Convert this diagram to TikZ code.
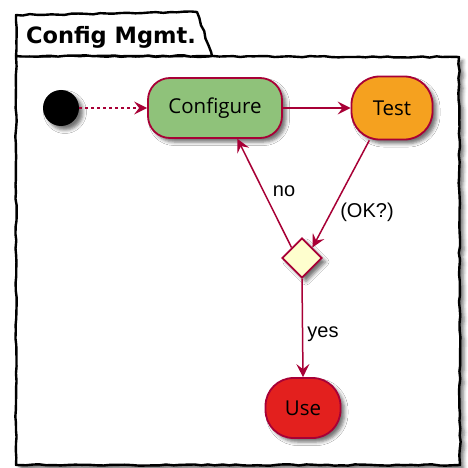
\documentclass[tikz,border=0pt]{standalone}
\usepackage{fontspec}
\setmainfont{Open Sans}
\newfontfamily\labelfont{Liberation Sans}
\newfontfamily\titlefont{DejaVu Sans}
\usetikzlibrary{arrows.meta,shapes.geometric,shadows.blur,decorations.pathmorphing}
\definecolor{umlred}{HTML}{A80036}
\definecolor{cfggreen}{HTML}{8FC27A}
\definecolor{testorange}{HTML}{F5A11F}
\definecolor{usered}{HTML}{E3201E}
\definecolor{decfill}{HTML}{FEFECE}
\pgfmathsetseed{11}
\tikzset{
  sketch/.style={decorate,decoration={random steps,segment length=7pt,amplitude=0.7pt}},
  framepath/.style={draw=black,line width=2.4pt,line join=round,sketch},
  softshadow/.style={blur shadow={shadow xshift=4pt,shadow yshift=-4pt,shadow blur radius=3.5pt,shadow opacity=55}},
  activity/.style={draw=umlred,line width=1.8pt,font=\fontsize{20.5}{23}\selectfont,
    text=black,inner sep=0pt,softshadow},
  flow/.style={draw=umlred,line width=1.5pt,-{Stealth[length=13pt,width=13pt,inset=5pt]}},
  guard/.style={font=\labelfont\fontsize{20}{22}\selectfont,inner sep=0pt}
}
\begin{document}
\begin{tikzpicture}[x=1pt,y=-1pt]
\useasboundingbox (0,0) rectangle (468,468);
% package frame with its tab
\path[framepath,fill=white,softshadow] (16,56) -- (459,57) -- (460,465) -- (16,465) -- cycle;
\path[framepath,fill=white] (16,56) -- (16,15) -- (197,12) -- (212,56) -- cycle;
\node[font=\titlefont\bfseries\fontsize{22.5}{25}\selectfont,inner sep=0pt] (title) at (111,37) {Config Mgmt.};
% activities
\node[circle,fill=black,minimum size=36pt,inner sep=0pt,softshadow] (start) at (61,108) {};
\node[activity,fill=cfggreen,rounded corners=22pt,minimum width=134pt,minimum height=60pt] (cfg) at (215,108) {Configure};
\node[activity,fill=testorange,rounded corners=28pt,minimum width=81pt,minimum height=63pt] (test) at (392,108) {Test};
\node[diamond,draw=umlred,line width=1.8pt,fill=decfill,minimum width=40pt,minimum height=40pt,inner sep=0pt,softshadow] (dec) at (302,258) {};
\node[activity,fill=usered,rounded corners=28pt,minimum width=75pt,minimum height=60pt] (use) at (303,408) {Use};
% transitions
\draw[flow,dash pattern=on 3pt off 3pt] (start) -- (cfg);
\draw[flow] (cfg) -- (test);
\draw[flow] (test.235) -- (dec.north east);
\draw[flow] (dec.north west) -- (cfg.-54);
\draw[flow] (dec.south) -- (use.north);
% guards
\node[guard] (no) at (284,191) {no};
\node[guard] (ok) at (367,212) {(OK?)};
\node[guard] (yes) at (323,334) {yes};
\end{tikzpicture}
\end{document}
